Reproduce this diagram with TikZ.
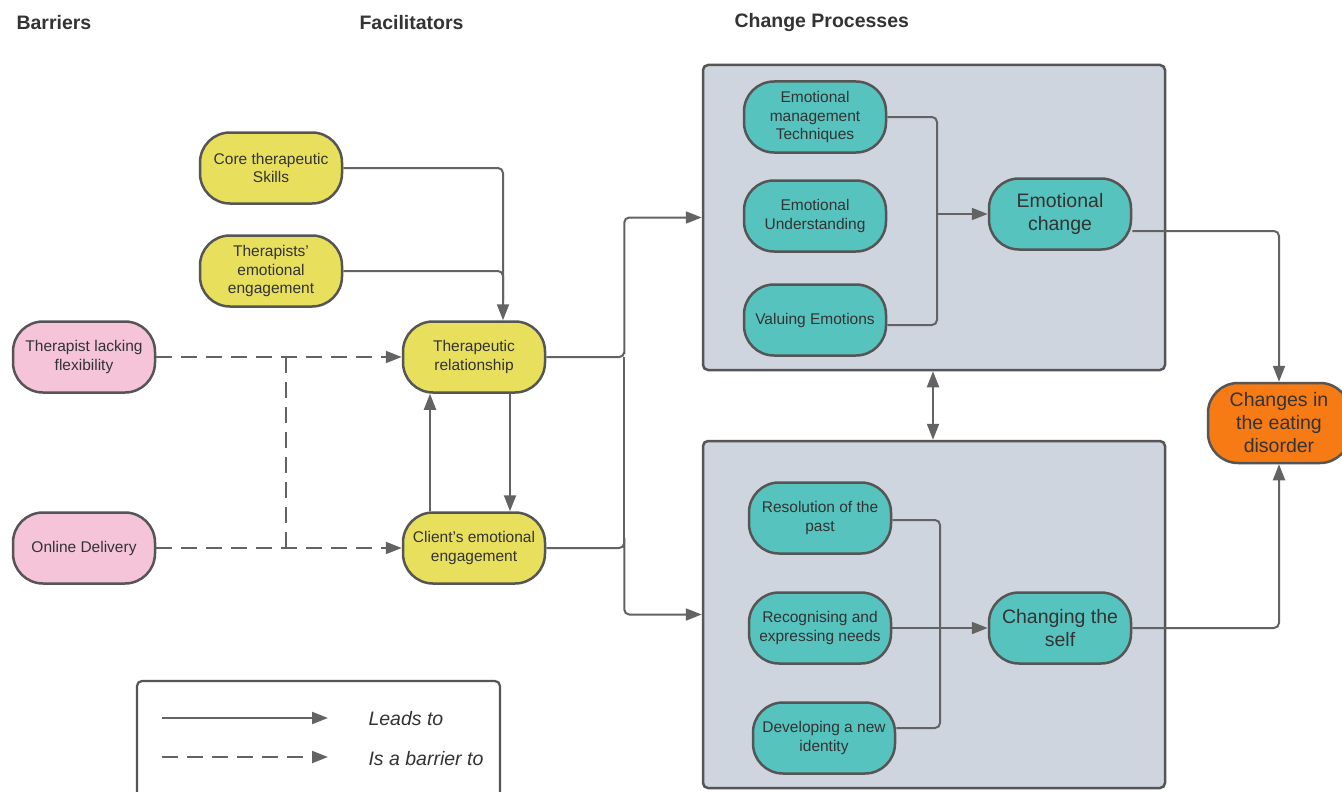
\documentclass[tikz,border=0pt]{standalone}
\usepackage{fontspec}
\setmainfont{Liberation Sans}
\usetikzlibrary{arrows.meta,calc}
\definecolor{yellowc}{HTML}{E8E05C}
\definecolor{pinkc}{HTML}{F5C4D9}
\definecolor{tealc}{HTML}{57C3BE}
\definecolor{orangec}{HTML}{F77B14}
\definecolor{grayc}{HTML}{CFD5DE}
\definecolor{bord}{HTML}{555555}
\definecolor{linec}{HTML}{636363}
\definecolor{txt}{HTML}{333333}
\tikzset{
  box/.style={draw=bord, line width=2.5pt, rounded corners=30pt, minimum width=142pt, minimum height=71pt, inner sep=0pt, align=center, text=txt, font=\fontsize{15.5}{18.5}\selectfont},
  yelbox/.style={box, fill=yellowc},
  pinkbox/.style={box, fill=pinkc},
  tealbox/.style={box, fill=tealc},
  bigteal/.style={tealbox, font=\fontsize{19.5}{23}\selectfont},
  orangebox/.style={box, fill=orangec, minimum height=80pt, font=\fontsize{19.5}{23}\selectfont},
  groupbox/.style={draw=bord, line width=2.5pt, rounded corners=5pt, fill=grayc, inner sep=0pt},
  legendbox/.style={draw=bord, line width=2.2pt, rounded corners=5pt, fill=white, inner sep=0pt},
  header/.style={anchor=west, text=txt, font=\fontsize{19.5}{23}\selectfont\bfseries},
  legtext/.style={anchor=west, text=txt, font=\fontsize{19.5}{23}\selectfont\itshape},
  conn/.style={draw=linec, line width=2pt, rounded corners=5pt},
  arr/.style={conn, -{Triangle[length=16pt,width=12pt]}},
  dblarr/.style={conn, {Triangle[length=16pt,width=12pt]}-{Triangle[length=16pt,width=12pt]}},
  barrierline/.style={arr, dash pattern=on 16pt off 9pt},
  dashline/.style={conn, dash pattern=on 16pt off 9pt},
}
\begin{document}
\begin{tikzpicture}[x=1pt,y=-1pt]
\useasboundingbox (0,0) rectangle (1342,792);
\fill[white] (0,0) rectangle (1342,792);

% headers
\node[header] (hb) at (13,23) {Barriers};
\node[header] (hf) at (356,23) {Facilitators};
\node[header] (hc) at (731,23) {Change Processes};

% group boxes
\node[groupbox, minimum width=462pt, minimum height=305pt] (topbox) at (934,217.5) {};
\node[groupbox, minimum width=462pt, minimum height=347pt] (botbox) at (934,614.5) {};

% legend
\node[legendbox, minimum width=363pt, minimum height=140pt] (leg) at (318.5,751) {};
\coordinate (l1a) at (162,718);
\coordinate (l1b) at (328,718);
\coordinate (l2a) at (162,757);
\coordinate (l2b) at (328,757);
\draw[arr] (l1a) -- (l1b);
\draw[barrierline] (l2a) -- (l2b);
\node[legtext] (lt1) at (365,719) {Leads to};
\node[legtext] (lt2) at (365,759) {Is a barrier to};

% facilitators
\node[yelbox] (core) at (271,168) {Core therapeutic\\Skills};
\node[yelbox] (teng) at (271,271) {Therapists'\\emotional\\engagement};
\node[yelbox] (trel) at (474,357) {Therapeutic\\relationship};
\node[yelbox] (cee) at (474,548) {Client's emotional\\engagement};

% barriers
\node[pinkbox] (flex) at (84,357) {Therapist lacking\\flexibility};
\node[pinkbox] (online) at (84,548) {Online Delivery};

% change processes
\node[tealbox] (emt) at (815,117) {Emotional\\management\\Techniques};
\node[tealbox] (eu) at (815,216) {Emotional\\Understanding};
\node[tealbox] (val) at (815,320) {Valuing Emotions};
\node[bigteal] (echange) at (1060,214) {Emotional\\change};
\node[tealbox] (res) at (820,518) {Resolution of the\\past};
\node[tealbox] (rec) at (820,628) {Recognising and\\expressing needs};
\node[tealbox] (dev) at (824,738) {Developing a new\\identity};
\node[bigteal] (self) at (1060,628) {Changing the\\self};
\node[orangebox] (ed) at (1279,423) {Changes in\\the eating\\disorder};

% facilitator connectors
\draw[arr] (core.east) -| ([xshift=29pt]trel.north);
\draw[conn] (teng.east) -| ([xshift=29pt,yshift=20pt]trel.north);
\draw[arr] ([xshift=36pt]trel.south) -- ([xshift=36pt]cee.north);
\draw[arr] ([xshift=-44pt]cee.north) -- ([xshift=-44pt]trel.south);

% barrier connectors
\draw[barrierline] (flex.east) -- (trel.west);
\draw[barrierline] (online.east) -- (cee.west);
\coordinate (dtop) at ($(flex.east)+(130,0)$);
\coordinate (dbot) at ($(online.east)+(130,0)$);
\draw[dashline] (dtop) -- (dbot);

% to change processes
\coordinate (split) at ($(trel.east)+(78,0)$);
\draw[arr] (trel.east) -| (split) |- (topbox.west);
\draw[arr] (cee.east) -| ($(cee.east)+(78,0)$) |- (botbox.west);
\draw[conn] (split) -- ($(cee.east)+(78,0)$);
\draw[dblarr] ([xshift=-1pt]topbox.south) -- ([xshift=-1pt]botbox.north);

% emotional change
\coordinate (ej) at (937,214);
\draw[conn] (emt.east) -| (ej);
\draw[conn] ([yshift=-5pt]val.east) -| (ej);
\draw[arr] (ej) -- (echange.west);

% changing the self
\coordinate (sj) at (940,628);
\draw[conn] ([yshift=-2pt]res.east) -| (sj);
\draw[conn] ([yshift=10pt]dev.east) -| (sj);
\draw[arr] (rec.east) -- (self.west);

% to eating disorder
\draw[arr] ([yshift=-17pt]echange.east) -| (ed.north);
\draw[arr] (self.east) -| (ed.south);
\end{tikzpicture}
\end{document}
